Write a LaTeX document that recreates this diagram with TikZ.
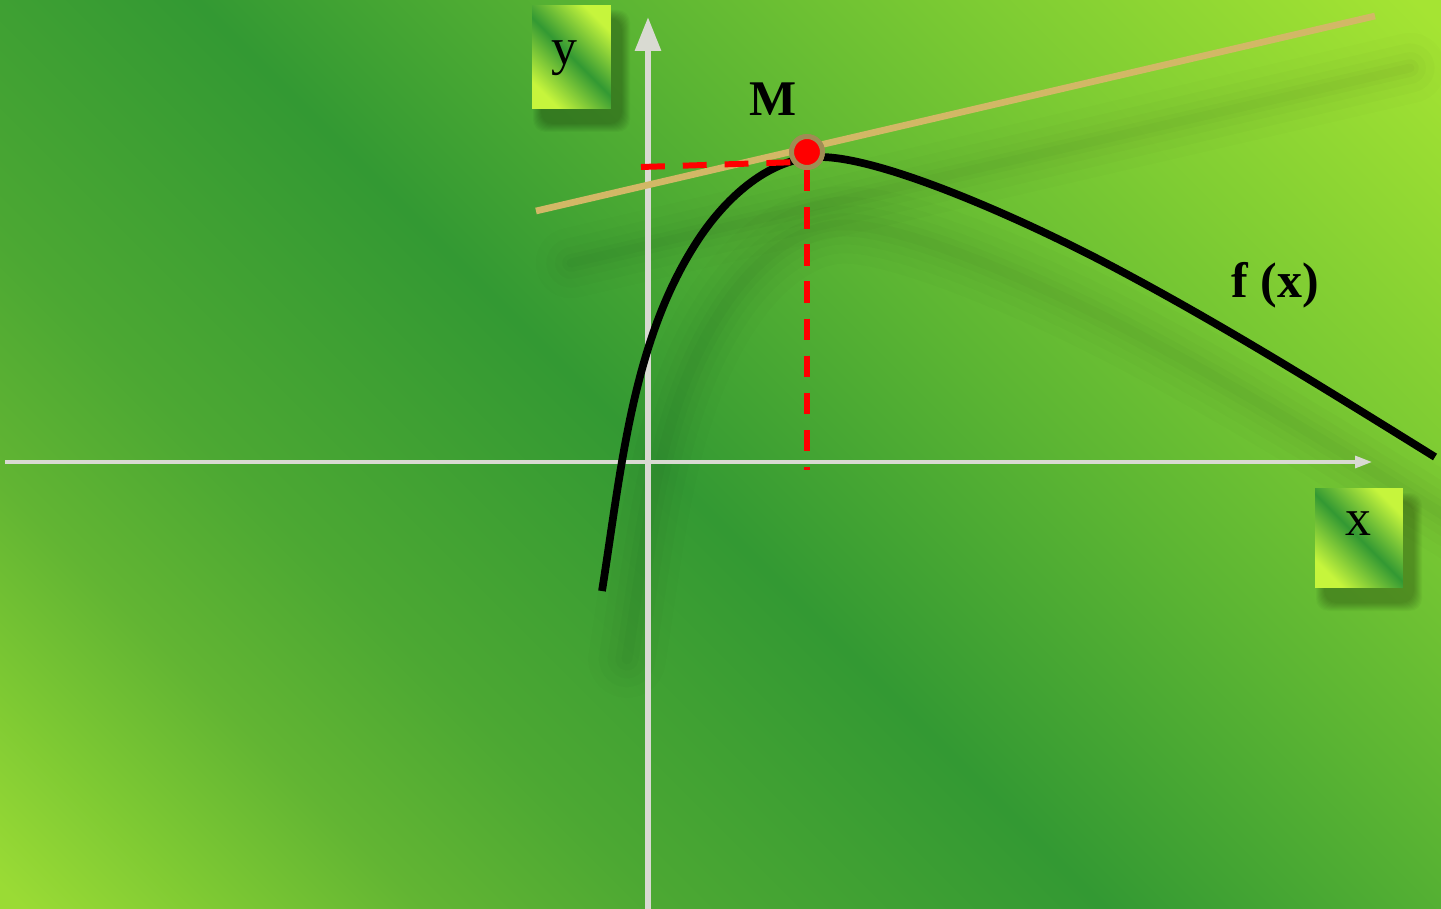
\documentclass[tikz,border=0pt]{standalone}
\usepackage{fontspec}
\setmainfont{Liberation Serif}
\usetikzlibrary{arrows.meta}
\definecolor{g0}{HTML}{9ADB35}
\definecolor{g1}{HTML}{7CC833}
\definecolor{g2}{HTML}{62B533}
\definecolor{g3}{HTML}{4CA833}
\definecolor{g4}{HTML}{339933}
\definecolor{g5}{HTML}{5AB433}
\definecolor{g6}{HTML}{7ECC33}
\definecolor{g7}{HTML}{A5E433}
\definecolor{bxY}{HTML}{C6F53C}
\definecolor{bxD}{HTML}{339933}
\definecolor{axisgray}{HTML}{D9DAD2}
\definecolor{tancol}{HTML}{D2B866}
\definecolor{ringcol}{HTML}{A08C54}
\definecolor{ptred}{HTML}{FF0000}
\pgfdeclarehorizontalshading{bgsh}{100bp}{color(0bp)=(g0); color(15.2bp)=(g0); color(21.4bp)=(g1); color(27.3bp)=(g2); color(34.7bp)=(g3); color(47.9bp)=(g4); color(59.9bp)=(g5); color(71.7bp)=(g6); color(84.8bp)=(g7); color(100bp)=(g7)}
\pgfdeclarehorizontalshading{boxsh}{100bp}{color(0bp)=(bxY); color(25bp)=(bxY); color(50bp)=(bxD); color(75bp)=(bxY); color(100bp)=(bxY)}
\begin{document}
\begin{tikzpicture}[x=0.02cm,y=-0.02cm,
  lblbox/.style={shade, shading=boxsh, shading angle=45, inner sep=0pt},
  axisline/.style={draw=axisgray},
  tanline/.style={draw=tancol, line width=3.8pt},
  curveline/.style={draw=black, line width=4.4pt, line join=round},
  reddash/.style={draw=ptred, line width=3.4pt, dash pattern=on 12.2pt off 8.95pt},
  shadowline/.style={draw=black, line cap=round, line join=round},
  serifbig/.style={font=\fontsize{29.5pt}{32pt}\selectfont, inner sep=0pt},
  boldbig/.style={font=\fontsize{28.4pt}{31pt}\selectfont\bfseries, inner sep=0pt}
]
\useasboundingbox (0,0) rectangle (1441,909);
\shade[shading=bgsh, shading angle=45] (0,0) rectangle (1441,909);

% soft shadow of the curve
\begin{scope}[shift={(25,68)}]
\foreach \w/\o in {44/0.012,32/0.014,22/0.016,13/0.018,6/0.018}
  \draw[shadowline, line width=\w pt, opacity=\o] (602,591) .. controls (621.5,469) and (632,338) .. (700,237) .. controls (727,197) and (770,157) .. (820,157) .. controls (880,157) and (1011,214) .. (1100,260) .. controls (1215,320) and (1324.5,388.5) .. (1435,457);
\end{scope}
% soft shadow of the tangent
\begin{scope}[shift={(35,52)}]
\foreach \w/\o in {40/0.012,28/0.014,18/0.016,10/0.018,5/0.018}
  \draw[shadowline, line width=\w pt, opacity=\o] (536,211) -- (1375,16);
\end{scope}

% box shadows
\foreach \i in {1,...,9}
  \fill[black, opacity=0.03, rounded corners=7pt] (532+10-10+\i,5+14-10+\i) rectangle (611+10+10-\i,109+14+10-\i);
\foreach \i in {1,...,9}
  \fill[black, opacity=0.03, rounded corners=7pt] (1315+10-10+\i,488+14-10+\i) rectangle (1403+10+10-\i,588+14+10-\i);

% label boxes
\node[lblbox, minimum width=44.8pt, minimum height=59pt] (ybox) at (571.5,57) {};
\node[lblbox, minimum width=49.9pt, minimum height=56.7pt] (xbox) at (1359,538) {};
\node[serifbig, anchor=base] (ylab) at (564,65) {y};
\node[serifbig, anchor=base] (xlab) at (1358,535) {x};

% axes
\coordinate (xs) at (5,462);
\coordinate (xe) at (1372,462);
\coordinate (ys) at (648,909);
\coordinate (ye) at (648,17);
\draw[axisline, line width=1.8pt, -{Triangle[length=9.6pt,width=6.8pt]}] (xs) -- (xe);
\draw[axisline, line width=3.4pt, -{Triangle[length=19.3pt,width=14.2pt]}] (ys) -- (ye);

% tangent
\coordinate (T1) at (536,211);
\coordinate (T2) at (1375,16);
\draw[tanline] (T1) -- (T2);

% curve
\coordinate (c0) at (602,591);
\coordinate (c4) at (1435,457);
\draw[curveline] (c0) .. controls (621.5,469) and (632,338) .. (700,237) .. controls (727,197) and (770,157) .. (820,157) .. controls (880,157) and (1011,214) .. (1100,260) .. controls (1215,320) and (1324.5,388.5) .. (c4);

% point M and dashed guides
\node[circle, inner sep=0pt, minimum size=17.6pt, fill=ptred, draw=ringcol, line width=2.8pt] (M) at (807,152) {};
\coordinate (hl) at (641,167);
\coordinate (hr) at (800,162);
\coordinate (vb) at (807,470);
\draw[reddash, dash pattern=on 13.6pt off 10.2pt] (hl) -- (hr);
\draw[reddash] (M.south) -- (vb);
\node[circle, inner sep=0pt, minimum size=17.6pt, fill=ptred, draw=ringcol, line width=2.8pt] (Mtop) at (M) {};

% labels
\node[boldbig, anchor=base] (Mlab) at (773,116) {M};
\node[boldbig, anchor=base] (flab) at (1275,297) {f (x)};
\end{tikzpicture}
\end{document}
